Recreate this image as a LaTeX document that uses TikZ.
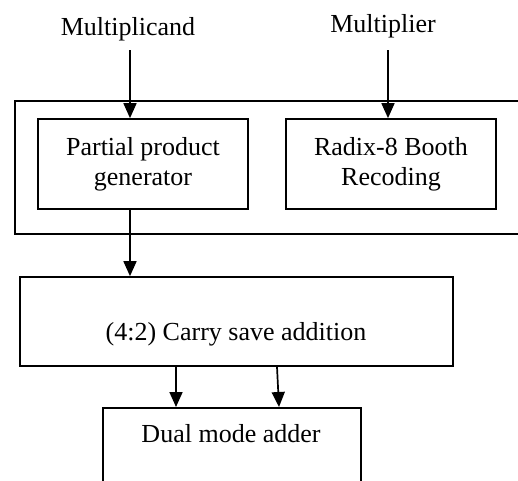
\documentclass[tikz,border=0pt]{standalone}
\usepackage{fontspec}
\setmainfont{Liberation Serif}
\usetikzlibrary{arrows.meta}
\begin{document}
\begin{tikzpicture}[x=1pt,y=-1pt,
  box/.style={draw,line width=1.7pt,inner sep=0pt,align=center,font=\fontsize{26}{30}\selectfont},
  lab/.style={inner sep=0pt,font=\fontsize{26}{30}\selectfont},
  arr/.style={line width=1.7pt,-{Triangle[width=13pt,length=15pt]}}]
\useasboundingbox (0,0) rectangle (518,480);
\clip (0,0) rectangle (518,480);
\node[box,minimum width=520pt,minimum height=133pt,anchor=north west] (outer) at (14,100) {};
\node[box,minimum width=210pt,minimum height=90pt] (ppg) at (143,164) {Partial product\\generator};
\node[box,minimum width=210pt,minimum height=90pt] (radix) at (391,164) {Radix-8 Booth\\Recoding};
\node[box,minimum width=433pt,minimum height=89pt] (csa) at (236.5,321.5) {};
\node[lab,anchor=base] (csat) at (236,340) {(4:2) Carry save addition};
\node[box,minimum width=258pt,minimum height=100pt,anchor=north west] (dual) at (102,407) {};
\node[lab,anchor=base] (dualt) at (231,442) {Dual mode adder};
\node[lab,anchor=base] (mcand) at (128,35) {Multiplicand};
\node[lab,anchor=base] (mplier) at (383,32) {Multiplier};
\coordinate (a1) at (130,50);
\coordinate (a2) at (388,50);
\coordinate (a3) at (130,0);
\coordinate (a4) at (176,0);
\coordinate (a5s) at (277,0);
\coordinate (a5e) at (279,0);
\draw[arr] (a1) -- (a1 |- ppg.north);
\draw[arr] (a2) -- (a2 |- radix.north);
\draw[arr] (a3 |- ppg.south) -- (a3 |- csa.north);
\draw[arr] (a4 |- csa.south) -- (a4 |- dual.north);
\draw[arr] (a5s |- csa.south) -- (a5e |- dual.north);
\end{tikzpicture}
\end{document}
